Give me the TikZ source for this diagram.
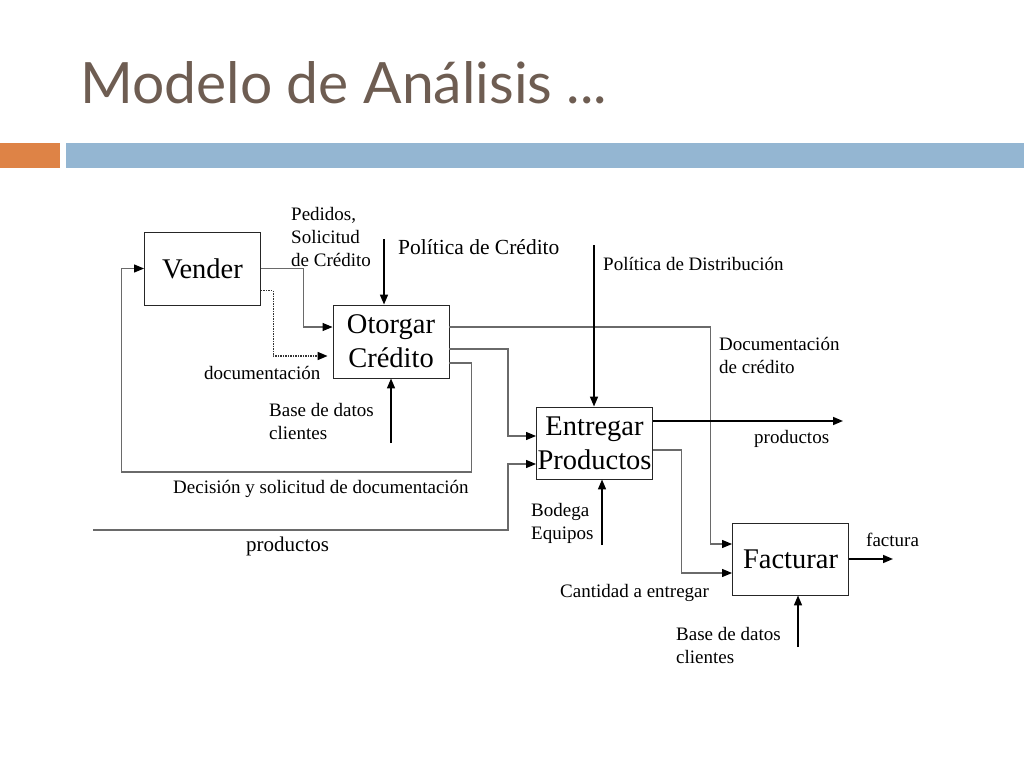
\documentclass[tikz,border=0pt]{standalone}
\usepackage{fontspec}
\setmainfont{Liberation Serif}
\newfontfamily\titlefont{Lato}
\usetikzlibrary{arrows.meta,calc}
\definecolor{titlecol}{HTML}{6E5D52}
\definecolor{barorange}{HTML}{DE8346}
\definecolor{barblue}{HTML}{94B6D2}
\definecolor{linegray}{HTML}{6A6A6A}
\tikzset{
  procbox/.style={draw=black!85, line width=0.9pt, minimum width=116pt, minimum height=73pt, inner sep=0pt, align=center, font=\fontsize{28.5}{34}\selectfont},
  lbl/.style={inner sep=0pt, align=left, font=\fontsize{19}{23}\selectfont},
  conn/.style={draw=linegray, line width=1.1pt, -{Triangle[length=10pt,width=8pt,black]}},
  arr/.style={draw=black, line width=1.6pt, -{Triangle[length=10pt,width=8pt]}},
}
\begin{document}
\begin{tikzpicture}[x=1pt,y=-1pt]
\useasboundingbox (0,0) rectangle (1024,768);
% title and bars
\node[anchor=base west, inner sep=0pt, text=titlecol, font=\titlefont\fontsize{57}{60}\selectfont] (title) at (80,103) {Modelo de Análisis ...};
\fill[barorange] (0,143) rectangle (60,168);
\fill[barblue] (66,143) rectangle (1024,168);
% boxes
\node[procbox] (vender) at (202.5,268.5) {Vender};
\node[procbox] (otorgar) at (391,341.5) {Otorgar\\Crédito};
\node[procbox, minimum height=72pt] (entregar) at (594.5,443) {Entregar\\Productos};
\node[procbox, minimum height=72pt] (facturar) at (790.5,559) {Facturar};
% labels (base anchor = baseline of the last line)
\node[lbl, anchor=base west] (lpedidos) at (291,266) {Pedidos,\\Solicitud\\de Crédito};
\node[lbl, anchor=base west, font=\fontsize{21.5}{26}\selectfont] (lpolcred) at (398,254) {Política de Crédito};
\node[lbl, anchor=base west] (lpoldist) at (603,270) {Política de Distribución};
\node[lbl, anchor=base west] (ldoc) at (204,379) {documentación};
\node[lbl, anchor=base west] (lbd1) at (269,439) {Base de datos\\clientes};
\node[lbl, anchor=base west] (ldec) at (173,493) {Decisión y solicitud de documentación};
\node[lbl, anchor=base west, font=\fontsize{21}{25}\selectfont] (lprodin) at (246,551) {productos};
\node[lbl, anchor=base west] (ldoccred) at (719,373) {Documentación\\de crédito};
\node[lbl, anchor=base west] (lprodout) at (754,443) {productos};
\node[lbl, anchor=base west] (lbodega) at (531,539) {Bodega\\Equipos};
\node[lbl, anchor=base west] (lcant) at (560,597) {Cantidad a entregar};
\node[lbl, anchor=base west] (lfactura) at (866,546) {factura};
\node[lbl, anchor=base west] (lbd2) at (676,663) {Base de datos\\clientes};
% free ends
\coordinate (pcs) at (384,239);
\coordinate (bds1) at (391,443);
\coordinate (pin) at (93,530);
\coordinate (pds) at (594,245);
\coordinate (pout) at (843,421);
\coordinate (bod) at (602,545);
\coordinate (fout) at (893,559);
\coordinate (bd2) at (798,647);
% connectors
\draw[conn] (vender.east) -- ++(42.5,0) |- ([yshift=14.5pt]otorgar.west);
\draw[conn, draw=black!80, dash pattern=on 1.5pt off 1pt, line width=1.6pt, shorten >=5pt] ([yshift=-22pt]vender.east) -- ++(12.5,0) |- ([yshift=-14.5pt]otorgar.west);
\draw[arr] (pcs) -- (pcs |- otorgar.north);
\draw[arr] (bds1) -- (bds1 |- otorgar.south);
\draw[conn] ([yshift=14.5pt]otorgar.east) -- ++(261,0) |- ([yshift=15pt]facturar.west);
\draw[conn] ([yshift=-7.5pt]otorgar.east) -- ++(58.5,0) |- ([yshift=7pt]entregar.west);
\draw[conn] ([yshift=-21.5pt]otorgar.east) -- ++(22,0) -- ++(0,109) -| ([xshift=-22.5pt]vender.west) -- (vender.west);
\draw[conn] (pin) -- ++(415,0) |- ([yshift=-21pt]entregar.west);
\draw[arr] (pds) -- (pds |- entregar.north);
\draw[arr] ([yshift=22pt]entregar.east) -- (pout);
\draw[arr] (bod) -- (bod |- entregar.south);
\draw[conn] ([yshift=-7pt]entregar.east) -- ++(28.5,0) |- ([yshift=-14pt]facturar.west);
\draw[arr] (facturar.east) -- (fout);
\draw[arr] (bd2) -- (bd2 |- facturar.south);
\end{tikzpicture}
\end{document}
